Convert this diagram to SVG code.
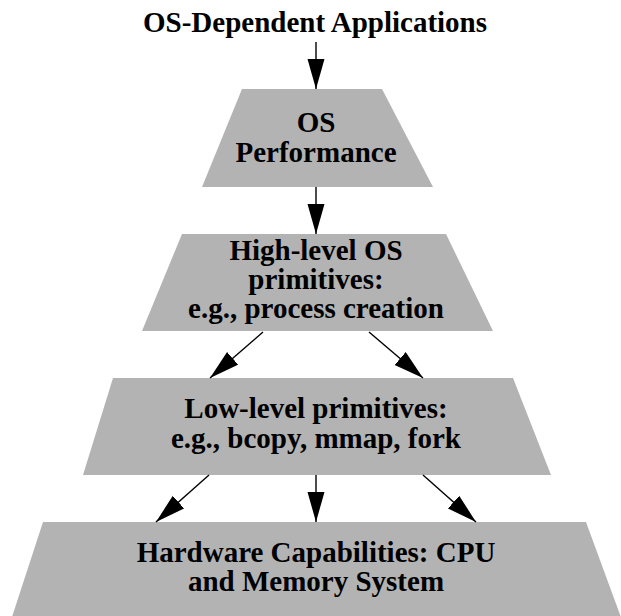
<svg xmlns="http://www.w3.org/2000/svg" width="621" height="616" viewBox="0 0 621 616">
  <style>
    .layer { fill: #b3b3b3; stroke: none; }
    .label { font-family: "Liberation Serif", "Times New Roman", serif; font-weight: bold; font-size: 29px; fill: #000; text-anchor: middle; }
    .edge { stroke: #000; stroke-width: 1.4; fill: none; marker-end: url(#head); }
  </style>
  <defs>
    <marker id="head" markerUnits="userSpaceOnUse" markerWidth="30" markerHeight="18" refX="30" refY="8.5" orient="auto">
      <path d="M0,0 L30,8.5 L0,17 Z" fill="#000"/>
    </marker>
  </defs>

  <rect width="621" height="616" fill="#fff"/>

  <g id="apps">
    <text class="label" x="315" y="32">OS-Dependent Applications</text>
  </g>

  <g id="os-performance">
    <polygon class="layer" points="242,89 382,89 433,187 202,187"/>
    <text class="label" x="316" y="132">OS</text>
    <text class="label" x="316" y="162">Performance</text>
  </g>

  <g id="high-level">
    <polygon class="layer" points="182,234 446,234 493,331 142,331"/>
    <text class="label" x="316" y="260">High-level OS</text>
    <text class="label" x="316" y="289">primitives:</text>
    <text class="label" x="316" y="318">e.g., process creation</text>
  </g>

  <g id="low-level">
    <polygon class="layer" points="113,378 513,378 551,475 83,475"/>
    <text class="label" x="316" y="418">Low-level primitives:</text>
    <text class="label" x="316" y="448">e.g., bcopy, mmap, fork</text>
  </g>

  <g id="hardware">
    <polygon class="layer" points="43,522 586,522 622,620 11,620"/>
    <text class="label" x="316" y="562">Hardware Capabilities: CPU</text>
    <text class="label" x="316" y="591">and Memory System</text>
  </g>

  <g id="connectors">
    <line class="edge" x1="316" y1="42" x2="316" y2="89"/>
    <line class="edge" x1="316" y1="187" x2="316" y2="234"/>
    <line class="edge" x1="263" y1="332" x2="210" y2="378"/>
    <line class="edge" x1="369" y1="332" x2="423" y2="378"/>
    <line class="edge" x1="209" y1="475" x2="156" y2="522"/>
    <line class="edge" x1="316" y1="475" x2="316" y2="522"/>
    <line class="edge" x1="423" y1="475" x2="476" y2="522"/>
  </g>
</svg>
